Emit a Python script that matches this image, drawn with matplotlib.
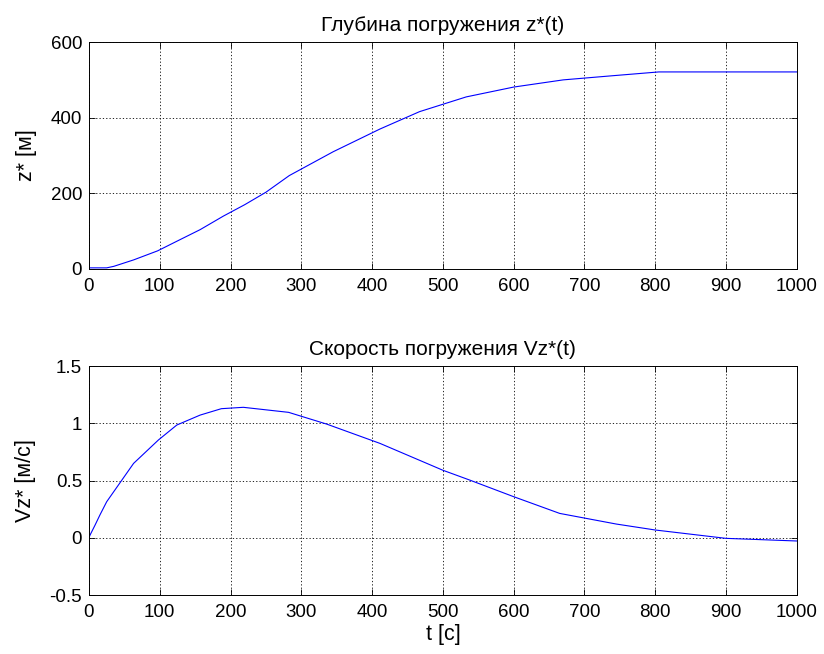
import matplotlib
matplotlib.use("Agg")
import matplotlib.pyplot as plt
from matplotlib.ticker import FuncFormatter

# ---------------- Data ----------------
t_z = [0, 25, 35, 63, 97, 128, 157, 190, 220, 250, 283, 345, 411, 467, 533, 600, 670, 740, 805, 1000]
z = [3, 3, 7, 24, 48, 77, 104, 140, 170, 203, 247, 310, 370, 416, 455, 481, 500, 511, 521, 521]

t_v = [0, 1.5, 8.5, 15.5, 25, 63, 98, 124, 157, 187, 218, 282, 336, 411, 500, 538, 600, 665, 745, 800, 900, 1000]
v = [0, 0.024, 0.11, 0.2, 0.315, 0.65, 0.854, 0.985, 1.072, 1.128, 1.14, 1.096, 0.993, 0.825,
     0.59, 0.504, 0.359, 0.213, 0.12, 0.068, -0.005, -0.028]

x_ticks = list(range(0, 1001, 100))
z_ticks = [0, 200, 400, 600]
v_ticks = [-0.5, 0, 0.5, 1, 1.5]

plt.rcParams["font.family"] = ["Liberation Sans", "DejaVu Sans"]
plt.rcParams["axes.unicode_minus"] = False

TICK_FS = 13.5
LABEL_FS = 15.5
TITLE_FS = 15


def style_axes(ax):
    ax.grid(True, color="black", linestyle=(0, (1.5, 2.5)), linewidth=0.6)
    ax.tick_params(direction="in", top=True, right=True, length=4, width=0.6,
                   labelsize=TICK_FS)
    ax.tick_params(axis="x", pad=6.5)
    ax.tick_params(axis="y", pad=5)
    for s in ax.spines.values():
        s.set_linewidth(0.7)


def fmt(x, pos):
    return f"{x:g}"


fig = plt.figure(figsize=(8.24, 6.54), dpi=100)

# ---------------- Depth ----------------
ax1 = fig.add_axes([0.108, 0.5887, 0.859, 0.347])
ax1.plot(t_z, z, color="blue", linewidth=0.8)
ax1.set_xlim(0, 1000)
ax1.set_ylim(0, 600)
ax1.set_xticks(x_ticks)
ax1.set_yticks(z_ticks)
ax1.set_title("Глубина погружения z*(t)", fontsize=TITLE_FS, pad=8)
ax1.set_ylabel("z* [м]", fontsize=LABEL_FS, labelpad=10)
style_axes(ax1)

# ---------------- Velocity ----------------
ax2 = fig.add_axes([0.108, 0.0902, 0.859, 0.350])
ax2.plot(t_v, v, color="blue", linewidth=0.8)
ax2.set_xlim(0, 1000)
ax2.set_ylim(-0.5, 1.5)
ax2.set_xticks(x_ticks)
ax2.set_yticks(v_ticks)
ax2.yaxis.set_major_formatter(FuncFormatter(fmt))
ax2.set_title("Скорость погружения Vz*(t)", fontsize=TITLE_FS, pad=8)
ax2.set_ylabel("Vz* [м/с]", fontsize=LABEL_FS, labelpad=10)
ax2.set_xlabel("t [с]", fontsize=LABEL_FS, labelpad=2)
style_axes(ax2)

fig.savefig("out.png", dpi=100)
plt.close(fig)
